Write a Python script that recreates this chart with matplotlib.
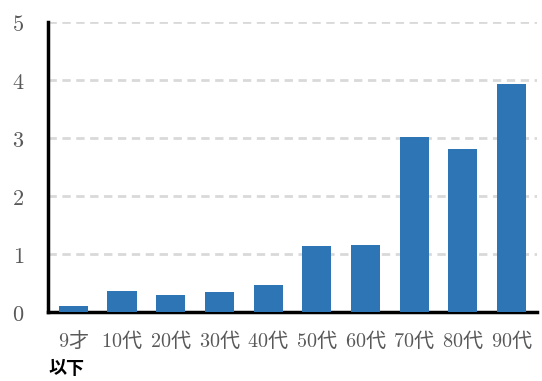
import matplotlib
matplotlib.use('Agg')
import matplotlib.pyplot as plt

plt.rcParams['font.family'] = ['Noto Sans CJK JP', 'DejaVu Sans']
plt.rcParams['mathtext.fontset'] = 'cm'

# age groups and values per group
ages = ['9', '10', '20', '30', '40', '50', '60', '70', '80', '90']
suffix = ['才'] + ['代'] * 9
values = [0.11, 0.36, 0.30, 0.34, 0.46, 1.14, 1.16, 3.02, 2.82, 3.93]
yticks = [0, 1, 2, 3, 4, 5]

bar_color = '#2e75b6'
label_color = '#595959'

fig = plt.figure(figsize=(5.42, 3.81), dpi=100)
ax = fig.add_axes([0.0886, 0.181, 0.902, 0.761])

x = list(range(len(values)))
ax.bar(x, values, width=0.6, color=bar_color, zorder=3)

ax.set_xlim(-0.52, 9.52)
ax.set_ylim(0, 5)
ax.set_yticks(yticks)
ax.set_yticklabels(['$%d$' % v for v in yticks], fontsize=16, color=label_color)
ax.set_xticks(x)
ax.set_xticklabels(['$%s$%s' % (a, s) for a, s in zip(ages, suffix)],
                   fontsize=14.5, color=label_color)
ax.tick_params(axis='y', length=0, pad=17)
ax.tick_params(axis='x', length=0, pad=13)

ax.yaxis.grid(True, linestyle=(0, (3, 2)), color='#d9d9d9', linewidth=2, zorder=0)
ax.set_axisbelow(True)

for side in ['top', 'right']:
    ax.spines[side].set_visible(False)
for side in ['left', 'bottom']:
    ax.spines[side].set_linewidth(2.5)
    ax.spines[side].set_color('black')

# second line of the first category label
fig.text(48 / 542, 1 - 369 / 381, '以下', fontsize=13, color='black',
         fontweight='bold', ha='left', va='center')

fig.savefig('out.png', dpi=100)
plt.close(fig)
